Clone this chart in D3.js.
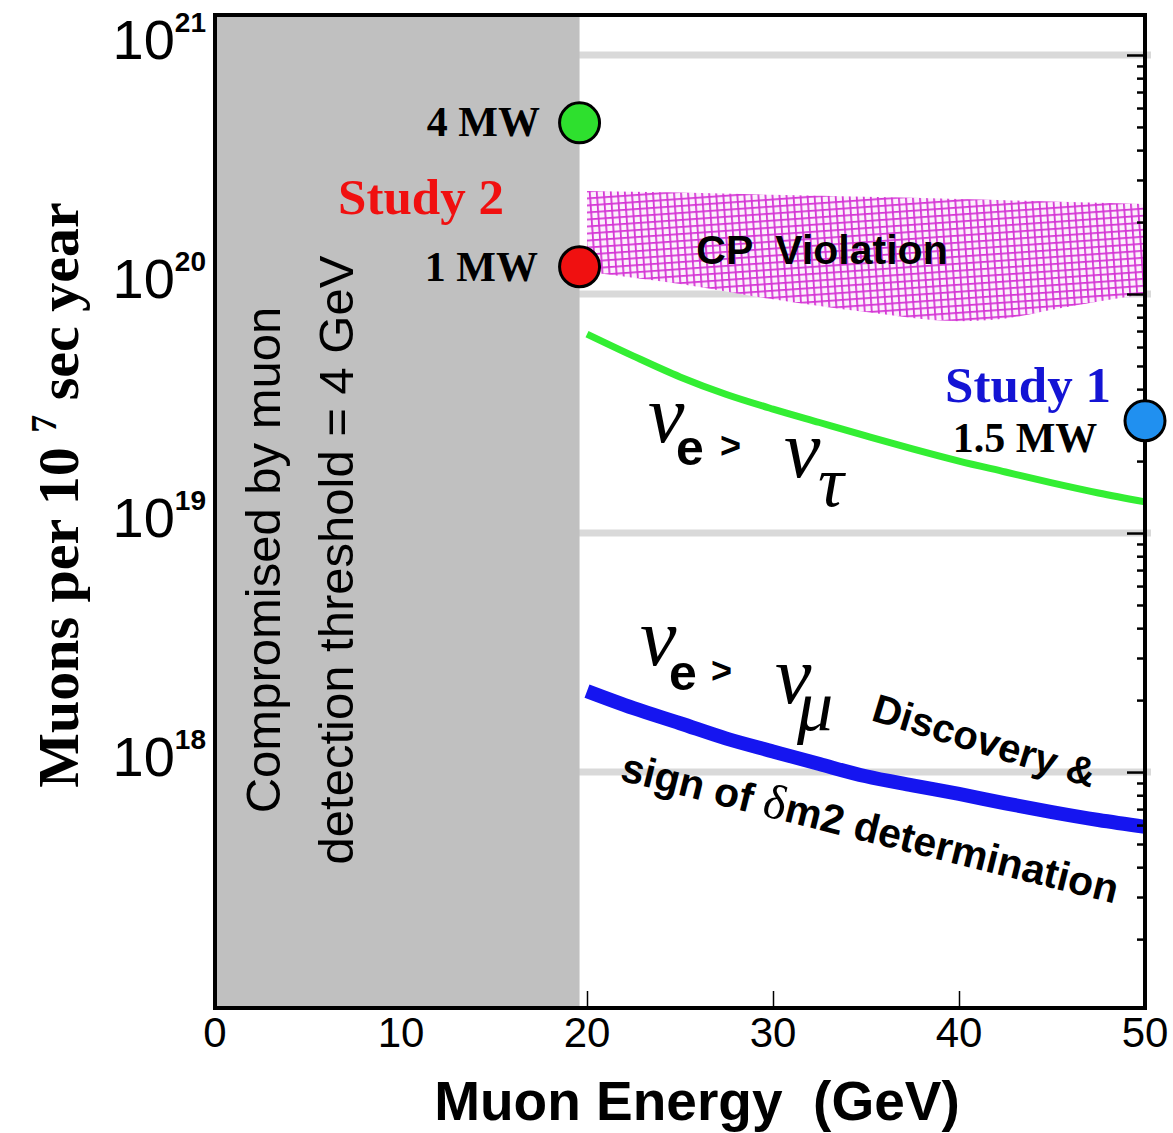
<!DOCTYPE html>
<html>
<head>
<meta charset="utf-8">
<script src="https://cdn.jsdelivr.net/npm/d3@7"></script>
<style>
  body { margin: 0; background: #fff; }
  svg text { white-space: pre; }
</style>
</head>
<body>
<svg id="chart" width="1173" height="1133"></svg>
<script>
// axis ticks
var energyTicks = [0, 10, 20, 30, 40, 50];
var decadeTicks = [1e18, 1e19, 1e20, 1e21];
var threshold = 19.6;

// CP violation band (edges)
var cpEnergy = [20, 25, 30, 35, 40, 42.5, 45, 50];
var cpUpper = [2.7e20, 2.66e20, 2.6e20, 2.55e20, 2.5e20, 2.47e20, 2.44e20, 2.38e20];
var cpLower = [1.24e20, 1.1e20, 9.5e19, 8.4e19, 7.7e19, 7.9e19, 8.6e19, 1.0e20];

// nu_e -> nu_tau and nu_e -> nu_mu curves
var curveEnergy = [20, 22.5, 25, 27.5, 30, 32.5, 35, 37.5, 40, 42.5, 45, 47.5, 50];
var tauFlux = [6.8e19, 5.5e19, 4.5e19, 3.8e19, 3.3e19, 2.9e19, 2.55e19, 2.25e19, 2.0e19, 1.8e19, 1.62e19, 1.47e19, 1.35e19];
var muFlux = [2.18e18, 1.85e18, 1.6e18, 1.38e18, 1.22e18, 1.08e18, 9.6e17, 8.8e17, 8.1e17, 7.4e17, 6.8e17, 6.3e17, 5.9e17];

// beam power points
var beamEnergy = [19.6, 19.6, 50];
var beamFlux = [5.2e20, 1.3e20, 2.95e19];
var beamColors = ["#2ee02e", "#f01010", "#2090f0"];

var svg = d3.select("#chart");
var x = d3.scaleLinear().domain([0, 50]).range([215, 1145]);
var y = d3.scaleLog().domain([1.03e17, 1.47e21]).range([1008, 15]);

svg.append("rect").attr("width", 1173).attr("height", 1133).attr("fill", "#fff");

// hatch pattern for CP band
var defs = svg.append("defs");
var pat = defs.append("pattern")
	.attr("id", "mesh")
	.attr("patternUnits", "userSpaceOnUse")
	.attr("width", 7).attr("height", 7)
	.attr("patternTransform", "rotate(-4)");
pat.append("rect").attr("width", 7).attr("height", 7).attr("fill", "#fcf0fc");
pat.append("path").attr("d", "M0,0.9H7M0.9,0V7")
	.attr("stroke", "#d535d5").attr("stroke-width", 1.8);

// decade grid lines
svg.selectAll(".grid")
	.data(decadeTicks)
	.enter()
	.append("line")
	.attr("x1", x(0)).attr("x2", x(50) + 6)
	.attr("y1", function(d){ return y(d); })
	.attr("y2", function(d){ return y(d); })
	.attr("stroke", "#d9d9d9").attr("stroke-width", 7);

// CP band
var band = d3.area()
	.x(function(d, i){ return x(cpEnergy[i]); })
	.y0(function(d, i){ return y(cpLower[i]); })
	.y1(function(d, i){ return y(cpUpper[i]); })
	.curve(d3.curveMonotoneX);
svg.append("path").datum(cpEnergy).attr("d", band).attr("fill", "url(#mesh)");

var curve = function(vals){
	return d3.line()
		.x(function(d, i){ return x(curveEnergy[i]); })
		.y(function(d){ return y(d); })
		.curve(d3.curveCatmullRom)(vals);
}
svg.append("path").attr("d", curve(tauFlux)).attr("fill", "none")
	.attr("stroke", "#33ee33").attr("stroke-width", 7);
svg.append("path").attr("d", curve(muFlux)).attr("fill", "none")
	.attr("stroke", "#1515f0").attr("stroke-width", 14);

// ticks, inward
var yAxisR = d3.axisLeft(y).tickValues(d3.range(17, 21).flatMap(function(p){
		return d3.range(1, 10).map(function(k){ return k * Math.pow(10, p); });
	}).concat([1e21]).filter(function(v){ return v > 1.03e17 && v < 1.47e21; }))
	.tickSize(8).tickFormat("");
var gR = svg.append("g").attr("transform", "translate(" + x(50) + ",0)").call(yAxisR);
gR.select(".domain").remove();
gR.selectAll(".tick line").attr("stroke-width", 2.5)
	.attr("x2", function(d){ return decadeTicks.indexOf(d) >= 0 ? -18 : -8; });

var xAxis = d3.axisTop(x).tickValues(energyTicks.slice(1, 5)).tickSize(17).tickFormat("");
var gX = svg.append("g").attr("transform", "translate(0," + y.range()[0] + ")").call(xAxis);
gX.select(".domain").remove();
gX.selectAll(".tick line").attr("stroke-width", 1.5);

// threshold region
svg.append("rect")
	.attr("x", x(0)).attr("y", 15)
	.attr("width", x(threshold) - x(0)).attr("height", 1008 - 15)
	.attr("fill", "#c0c0c0");

// frame
svg.append("rect")
	.attr("x", x(0)).attr("y", 15)
	.attr("width", x(50) - x(0)).attr("height", 1008 - 15)
	.attr("fill", "none").attr("stroke", "#000").attr("stroke-width", 4);

// tick labels
svg.selectAll(".xl")
	.data(energyTicks)
	.enter()
	.append("text")
	.attr("x", function(d){ return x(d); })
	.attr("y", 1047)
	.attr("text-anchor", "middle")
	.attr("font-family", "Liberation Sans, Arial, sans-serif")
	.attr("font-size", 42)
	.text(function(d){ return d; });

var yl = svg.selectAll(".yl")
	.data(decadeTicks)
	.enter()
	.append("text")
	.attr("x", 206)
	.attr("y", function(d){ return y(d) + 4; })
	.attr("text-anchor", "end")
	.attr("font-family", "Liberation Sans, Arial, sans-serif");
yl.append("tspan").attr("font-size", 56).text("10");
yl.append("tspan").attr("font-size", 28).attr("font-weight", "bold").attr("dy", -27)
	.text(function(d){ return Math.round(Math.log10(d)); });

// axis titles
svg.append("text")
	.attr("x", 697).attr("y", 1120)
	.attr("text-anchor", "middle")
	.attr("font-family", "Liberation Sans, Arial, sans-serif")
	.attr("font-weight", "bold").attr("font-size", 55)
	.text("Muon Energy  (GeV)");

var yt = svg.append("text")
	.attr("transform", "translate(78,495) rotate(-90)")
	.attr("text-anchor", "middle")
	.attr("font-family", "Liberation Serif, Times New Roman, serif")
	.attr("font-weight", "bold").attr("font-size", 58);
yt.append("tspan").text("Muons per 10 ");
yt.append("tspan").attr("font-size", 36).attr("dy", -22).text("7");
yt.append("tspan").attr("dy", 22).text(" sec year");

// threshold note
var note = ["Compromised by muon", "detection threshold = 4 GeV"];
svg.selectAll(".note")
	.data(note)
	.enter()
	.append("text")
	.attr("transform", function(d, i){ return "translate(" + (280 + i * 73) + ",560) rotate(-90)"; })
	.attr("text-anchor", "middle")
	.attr("font-family", "Liberation Sans, Arial, sans-serif")
	.attr("font-size", 49)
	.text(function(d){ return d; });

// beam points
svg.selectAll(".beam")
	.data(beamFlux)
	.enter()
	.append("circle")
	.attr("cx", function(d, i){ return x(beamEnergy[i]); })
	.attr("cy", function(d){ return y(d); })
	.attr("r", 20)
	.attr("fill", function(d, i){ return beamColors[i]; })
	.attr("stroke", "#000").attr("stroke-width", 3);

var serif = "Liberation Serif, Times New Roman, serif";
var sans = "Liberation Sans, Arial, sans-serif";
function label(tx, ty, txt, size, color, font, anchor){
	return svg.append("text").attr("x", tx).attr("y", ty)
		.attr("text-anchor", anchor || "start")
		.attr("font-family", font).attr("font-weight", "bold")
		.attr("font-size", size).attr("fill", color).text(txt);
}
label(540, 136, "4 MW", 42, "#000", serif, "end");
label(538, 281, "1 MW", 42, "#000", serif, "end");
label(421, 214, "Study 2", 51, "#f01010", serif, "middle");
label(1028, 402, "Study 1", 51, "#1414d4", serif, "middle");
label(1025, 452, "1.5 MW", 42, "#000", serif, "middle");
label(822, 264, "CP  Violation", 41, "#000", sans, "middle");

// nu_e > nu_tau
function nu(tx, ty){
	return svg.append("text").attr("x", tx).attr("y", ty)
		.attr("font-family", serif).attr("font-style", "italic")
		.attr("font-size", 82).text("\u03bd");
}
nu(648, 442);
label(676, 465, "e", 50, "#000", sans);
label(720, 458, ">", 36, "#000", sans);
nu(784, 477);
svg.append("text").attr("x", 818).attr("y", 506)
	.attr("font-family", serif).attr("font-style", "italic")
	.attr("font-size", 72).text("\u03c4");

// nu_e > nu_mu
nu(640, 665);
label(669, 690, "e", 50, "#000", sans);
label(711, 683, ">", 36, "#000", sans);
nu(775, 703);
svg.append("text").attr("x", 797).attr("y", 730)
	.attr("font-family", serif).attr("font-style", "italic")
	.attr("font-size", 72).text("\u03bc");

label(0, 0, "Discovery &", 40, "#000", sans)
	.attr("transform", "translate(870,720) rotate(17)");
var sg = label(0, 0, "sign of ", 41, "#000", sans)
	.attr("transform", "translate(619,780) rotate(14)");
sg.append("tspan").attr("font-family", serif).attr("font-weight", "normal")
	.attr("font-size", 49).text("\u03b4");
sg.append("tspan").text("m2 determination");
</script>
</body>
</html>
